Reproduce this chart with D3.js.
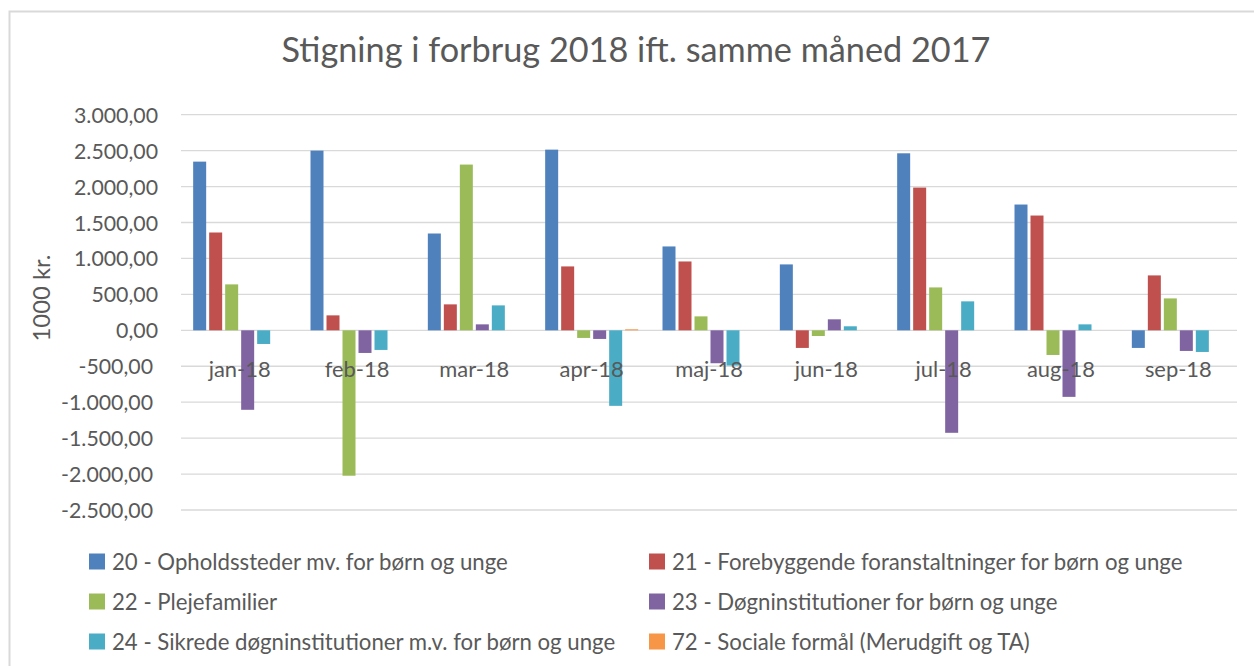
<!DOCTYPE html>
<html>
<head>
<meta charset="utf-8">
<script src="https://cdn.jsdelivr.net/npm/d3@7"></script>
<style>
  html, body { margin: 0; padding: 0; background: #ffffff; }
  svg { display: block; }
  text { font-family: Lato, "Open Sans", sans-serif; fill: #595959; }
</style>
</head>
<body>
<svg id="chart" width="1254" height="666"></svg>
<script>
// ---- Data ----
const months = ["jan-18", "feb-18", "mar-18", "apr-18", "maj-18", "jun-18", "jul-18", "aug-18", "sep-18"];
const seriesNames = [
  "20 - Opholdssteder mv. for børn og unge",
  "21 - Forebyggende foranstaltninger for børn og unge",
  "22 - Plejefamilier",
  "23 - Døgninstitutioner for børn og unge",
  "24 - Sikrede døgninstitutioner m.v. for børn og unge",
  "72 - Sociale formål (Merudgift og TA)"
];
const s20 = [2347, 2500, 1347, 2514, 1167, 917, 2463, 1750, -245];
const s21 = [1361, 208, 361, 889, 958, -245, 1986, 1597, 764];
const s22 = [639, -2023, 2306, -106, 194, -79, 597, -343, 444];
const s23 = [-1106, -315, 83, -120, -458, 153, -1426, -926, -287];
const s24 = [-190, -273, 347, -1051, -490, 56, 403, 83, -301];
const s72 = [0, 0, 0, 14, 0, 0, 0, 0, 0];
const seriesValues = [s20, s21, s22, s23, s24, s72];
const colors = ["#4F81BD", "#C0504D", "#9BBB59", "#8064A2", "#4BACC6", "#F79646"];
const yTicks = [-2500, -2000, -1500, -1000, -500, 0, 500, 1000, 1500, 2000, 2500, 3000];
const titleText = "Stigning i forbrug 2018 ift. samme måned 2017";
const yTitleText = "1000 kr.";

// ---- Helpers ----
const svg = d3.select("#chart");
const locale = d3.formatLocale({decimal: ",", thousands: ".", grouping: [3], currency: ["", " kr."], minus: "-"});
const fmt = locale.format(",.2f");

function fitSize(textSel, targetWidth, base) {
  const w = textSel.node().getComputedTextLength();
  return base * targetWidth / w;
}

// chart frame
svg.append("rect")
  .attr("x", 9.5).attr("y", 11.5)
  .attr("width", 1300).attr("height", 700)
  .attr("fill", "none").attr("stroke", "#d9d9d9").attr("stroke-width", 2);

// ---- Scales ----
const plotLeft = 181, plotRight = 1237;
const x0 = d3.scaleBand().domain(months).range([plotLeft, plotRight]).padding(0);
const x1 = d3.scaleBand().domain(d3.range(seriesNames.length))
  .range([-48, 48]).paddingInner(3 / 16).paddingOuter(3 / 32);
const y = d3.scaleLinear().domain([-2500, 3000]).range([510, 114.7]);

// gridlines
svg.append("g").selectAll("line").data(yTicks).join("line")
  .attr("x1", plotLeft).attr("x2", plotRight)
  .attr("y1", d => y(d)).attr("y2", d => y(d))
  .attr("stroke", "#d9d9d9").attr("stroke-width", 1.3);

// y tick labels (Excel format with trailing space on positives)
const yLab = svg.append("g");
const probe = yLab.append("text").attr("font-size", 18).text("3.000,00");
const ySize = fitSize(probe, 84, 18);
probe.remove();
yLab.selectAll("text").data(yTicks).join("text")
  .attr("x", d => d >= 0 ? 158 : 153)
  .attr("y", d => y(d))
  .attr("text-anchor", "end")
  .attr("dominant-baseline", "central")
  .attr("font-size", ySize)
  .text(d => fmt(d));

// bars
const barG = svg.append("g");
seriesValues.forEach((vals, si) => {
  barG.append("g").attr("fill", colors[si])
    .selectAll("rect").data(vals.map((v, i) => ({m: months[i], v}))).join("rect")
    .attr("x", d => x0(d.m) + x0.bandwidth() / 2 + x1(si))
    .attr("width", x1.bandwidth())
    .attr("y", d => Math.min(y(d.v), y(0)))
    .attr("height", d => Math.abs(y(d.v) - y(0)));
});

// category labels (next to zero axis)
const xLab = svg.append("g");
const probe2 = xLab.append("text").attr("font-size", 18).text("jan-18");
const xSize = fitSize(probe2, 62, 18);
probe2.remove();
xLab.selectAll("text").data(months).join("text")
  .attr("x", d => x0(d) + x0.bandwidth() / 2)
  .attr("y", y(0) + 38)
  .attr("text-anchor", "middle")
  .attr("dominant-baseline", "central")
  .attr("font-size", xSize)
  .text(d => d);

// title
const title = svg.append("text").attr("font-size", 30).text(titleText);
const tSize = fitSize(title, 709, 30);
title.attr("font-size", tSize)
  .attr("x", 636).attr("y", 48)
  .attr("text-anchor", "middle").attr("dominant-baseline", "central");

// y axis title
const yt = svg.append("text").attr("font-size", 20).text(yTitleText);
const ytSize = fitSize(yt, 87, 20);
yt.attr("font-size", ytSize)
  .attr("transform", "translate(40,298) rotate(-90)")
  .attr("text-anchor", "middle").attr("dominant-baseline", "central");

// legend
const legend = svg.append("g");
const probe3 = legend.append("text").attr("font-size", 20).text(seriesNames[0]);
const lSize = fitSize(probe3, 396, 20);
probe3.remove();
const colX = [89, 649];
const rowY = [561.5, 601.5, 641.5];
seriesNames.forEach((name, i) => {
  const cx = colX[i % 2], cy = rowY[Math.floor(i / 2)];
  const g = legend.append("g");
  g.append("rect").attr("x", cx).attr("y", cy - 8).attr("width", 16).attr("height", 16)
    .attr("fill", colors[i]);
  g.append("text").attr("x", cx + 23).attr("y", cy)
    .attr("dominant-baseline", "central")
    .attr("font-size", lSize)
    .text(name);
});
</script>
</body>
</html>
